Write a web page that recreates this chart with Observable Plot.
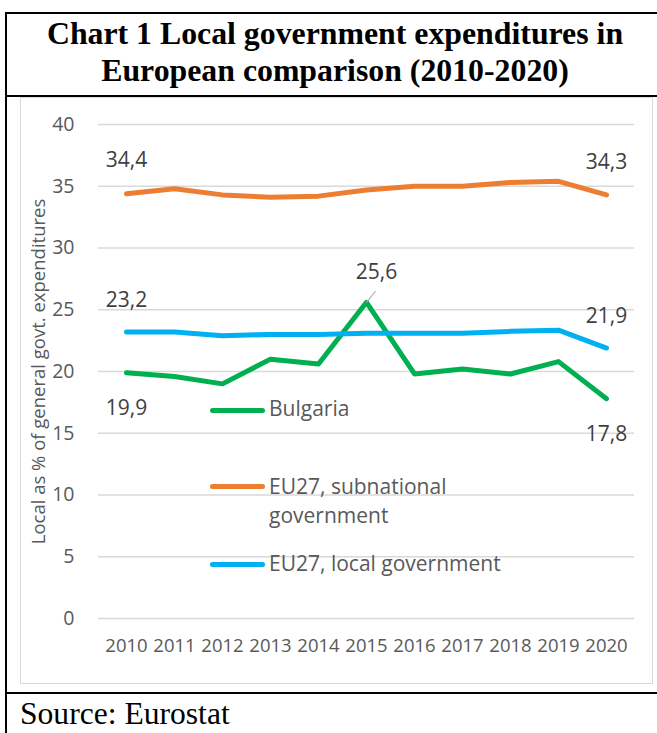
<!DOCTYPE html>
<html>
<head>
<meta charset="utf-8">
<script src="https://cdn.jsdelivr.net/npm/d3@7"></script>
<script src="https://cdn.jsdelivr.net/npm/@observablehq/plot@0.6"></script>
<style>
html, body { margin: 0; padding: 0; background: #fff; overflow: hidden; }
#wrap { position: relative; width: 657px; height: 733px; overflow: hidden; background: #fff; }
.bk { position: absolute; background: #000; }
#frame { position: absolute; left: 20px; top: 97px; width: 631px; height: 585px; border: 1px solid #d9d9d9; }
#title { position: absolute; left: 5px; width: 660px; top: 15px; text-align: center;
  font: bold 31.8px "Liberation Serif", "Times New Roman", serif; line-height: 37px; color: #000; }
#source { position: absolute; left: 20px; top: 698px; font: 31.6px "Liberation Serif", "Times New Roman", serif;
  line-height: 31px; color: #000; white-space: nowrap; }
#chart { position: absolute; left: 0; top: 97px; }
.sw { position: absolute; left: 210px; width: 55px; height: 5px; border-radius: 3px; }
.lg { position: absolute; left: 269px; font: 21px "Open Sans", sans-serif; line-height: 29px; color: #595959; white-space: nowrap; }
</style>
</head>
<body>
<div id="wrap">
  <div id="frame"></div>
  <div id="chart"></div>
  <div class="bk" style="left:5px;top:12px;width:652px;height:2px"></div>
  <div class="bk" style="left:5px;top:12px;width:2px;height:721px"></div>
  <div class="bk" style="left:5px;top:95px;width:652px;height:2px"></div>
  <div class="bk" style="left:5px;top:692px;width:652px;height:2px"></div>
  <div id="title">Chart 1 Local government expenditures in<br>European comparison (2010-2020)</div>
  <div id="source">Source: Eurostat</div>
  <div id="legend"></div>
</div>
<script>
// ---- data ----
const years = [2010, 2011, 2012, 2013, 2014, 2015, 2016, 2017, 2018, 2019, 2020];
const bulgaria = [19.9, 19.6, 19.0, 21.0, 20.6, 25.6, 19.8, 20.2, 19.8, 20.8, 17.8];
const eu27Subnational = [34.4, 34.8, 34.3, 34.1, 34.2, 34.7, 35.0, 35.0, 35.3, 35.4, 34.3];
const eu27Local = [23.2, 23.2, 22.9, 23.0, 23.0, 23.1, 23.1, 23.1, 23.25, 23.35, 21.9];
const seriesNames = ["Bulgaria", "EU27, subnational government", "EU27, local government"];
const seriesColors = ["#00B050", "#ED7D31", "#00B0F0"];
const yTicks = [0, 5, 10, 15, 20, 25, 30, 35, 40];
const yTitle = "Local as % of general govt. expenditures";

// ---- table ----
const seriesValues = [bulgaria, eu27Subnational, eu27Local];
const points = seriesNames.flatMap((s, k) => years.map((yr, i) => ({series: s, year: yr, value: seriesValues[k][i]})));
const fmt = v => v.toFixed(1).replace(".", ",");
const pick = (s, yrs) => points.filter(d => d.series === s && yrs.includes(d.year));

const font = "'Open Sans', sans-serif";
const chart = Plot.plot({
  width: 657,
  height: 596,
  marginLeft: 98,
  marginRight: 23,
  marginTop: 27,
  marginBottom: 75,
  style: {background: "transparent", fontFamily: font, overflow: "visible"},
  x: {type: "point", domain: years, padding: 0.5},
  y: {domain: [0, 40]},
  color: {domain: seriesNames, range: seriesColors},
  marks: [
    Plot.ruleY(yTicks, {stroke: "#d9d9d9", strokeWidth: 1.5}),
    Plot.axisY({ticks: yTicks, tickSize: 0, tickPadding: 24, fontSize: 19.5, color: "#595959", fill: "#595959", label: null}),
    Plot.axisX({tickSize: 0, tickPadding: 20, fontSize: 18.5, color: "#595959", fill: "#595959", label: null, tickFormat: d => String(d)}),
    Plot.text([yTitle], {text: d => d, frameAnchor: "left", textAnchor: "middle", dx: -59.5, rotate: -90, fontSize: 18.5, fill: "#595959"}),
    Plot.line(points, {x: "year", y: "value", z: "series", stroke: "series", strokeWidth: 5, strokeLinecap: "round", strokeLinejoin: "round"}),
    Plot.vector(pick("Bulgaria", [2015]), {x: "year", y: "value", length: 14, rotate: 39, anchor: "start",
      stroke: "#a6a6a6", strokeWidth: 1,
      shape: {draw(ctx, l) { ctx.moveTo(0, 0); ctx.lineTo(0, -l); }}}),
    Plot.text(pick("EU27, subnational government", [2010, 2020]), {x: "year", y: "value", text: d => fmt(d.value), dy: -33, fontSize: 21, fill: "#404040"}),
    Plot.text(pick("EU27, local government", [2010, 2020]), {x: "year", y: "value", text: d => fmt(d.value), dy: -32, fontSize: 21, fill: "#404040"}),
    Plot.text(pick("Bulgaria", [2010, 2020]), {x: "year", y: "value", text: d => fmt(d.value), dy: 35.5, fontSize: 21, fill: "#404040"}),
    Plot.text(pick("Bulgaria", [2015]), {x: "year", y: "value", text: d => fmt(d.value), dx: 10, dy: -30, fontSize: 21, fill: "#404040"})
  ]
});
document.getElementById("chart").appendChild(chart);

// ---- legend ----
const legend = document.getElementById("legend");
const legendLabels = ["Bulgaria", "EU27, subnational<br>government", "EU27, local government"];
const swatchTops = [407.5, 484.2, 561.5];
const textTops = [394, 472.3, 549];
seriesNames.forEach((s, i) => {
  const sw = document.createElement("div");
  sw.className = "sw";
  sw.style.top = swatchTops[i] + "px";
  sw.style.background = seriesColors[i];
  legend.appendChild(sw);
  const t = document.createElement("div");
  t.className = "lg";
  t.style.top = textTops[i] + "px";
  t.innerHTML = legendLabels[i];
  legend.appendChild(t);
});
</script>
</body>
</html>
